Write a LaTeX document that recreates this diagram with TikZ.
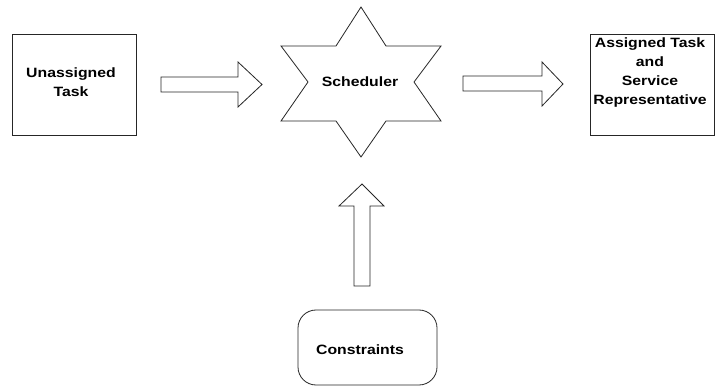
\documentclass[tikz,border=0pt]{standalone}
\usepackage{fontspec}
\setmainfont{Liberation Sans}[FakeStretch=1.17]
\begin{document}
\begin{tikzpicture}[x=1pt,y=-1pt,
  outline/.style={draw=black!85,line width=0.8pt,fill=white,line join=miter},
  lbl/.style={font=\fontsize{13.5}{19}\selectfont\bfseries,align=center,inner sep=0pt}]
\useasboundingbox[fill=white] (0,0) rectangle (715,387);
% left box
\draw[outline] (12,34) rectangle (136,135);
\node[lbl] (unassigned) at (71,82) {Unassigned\\Task};
% arrow 1
\draw[outline] (161,77) -- (238,77) -- (238,62) -- (262,84.5) -- (238,107) -- (238,92) -- (161,92) -- cycle;
% star
\draw[outline] (361,7) -- (386,46) -- (441,46) -- (414,82) -- (441,121) -- (386,121) -- (361,157)
  -- (336,121) -- (281,121) -- (308,82) -- (281,46) -- (336,46) -- cycle;
\node[lbl] (scheduler) at (360,82) {Scheduler};
% arrow 2
\draw[outline] (463,76) -- (542,76) -- (542,62) -- (563,84) -- (542,106) -- (542,91) -- (463,91) -- cycle;
% right box
\draw[outline] (590,34) -- (714,34) -- (714,135) -- (590,135) -- cycle;
\node[lbl] (assigned) at (650,72.5) {Assigned Task\\and\\Service\\Representative};
% up arrow
\draw[outline] (354,286) -- (354,206) -- (339,206) -- (362,184) -- (384,206) -- (370,206) -- (370,286) -- cycle;
% constraints
\draw[outline,rounded corners=18pt] (298,310) rectangle (437,385);
\node[lbl] (constraints) at (360,350) {Constraints};
\end{tikzpicture}
\end{document}
